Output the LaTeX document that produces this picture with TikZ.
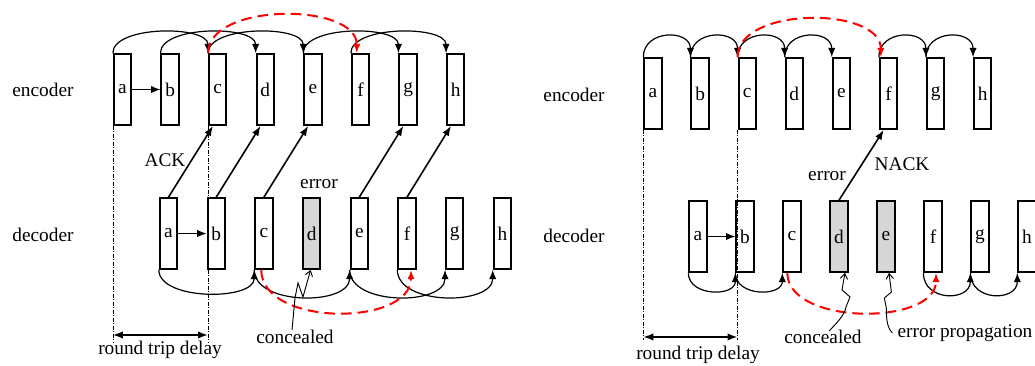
\documentclass[tikz,border=0pt]{standalone}
\usepackage{fontspec}
\setmainfont{Liberation Serif}
\usetikzlibrary{arrows.meta,calc}
\begin{document}
\begin{tikzpicture}[x=0.75pt,y=-0.75pt,
  font=\fontsize{14.5}{17}\selectfont,
  frame/.style={draw,line width=1.5pt,minimum width=13pt,minimum height=53pt,inner sep=0pt},
  txt/.style={inner sep=0pt},
  hop/.style={line width=0.9pt,-{Latex[length=7pt,width=5.5pt]}},
  ref/.style={red,line width=1.5pt,dash pattern=on 8pt off 4.5pt,-{Latex[length=7pt,width=5.5pt]}},
  fb/.style={line width=1.2pt,-{Latex[length=7.5pt,width=5.5pt]}},
  guide/.style={line width=0.5pt,dash pattern=on 3pt off 1.2pt on 0.6pt off 1.2pt},
  span/.style={line width=1.2pt,{Latex[length=7.5pt,width=5.5pt]}-{Latex[length=7.5pt,width=5.5pt]}},
  zig/.style={line width=0.7pt,-{Straight Barb[length=4pt,width=5.5pt]}},
]
\useasboundingbox (0,0) rectangle (1035,365);

% ---------- left: ACK scheme ----------
\node[txt] (Lenc) at (43,90) {encoder};
\node[txt] (Ldec) at (43,235) {decoder};
\foreach \n/\c [count=\i from 0] in {a/none,b/none,c/none,d/none,e/none,f/none,g/none,h/none}
  \node[frame,fill=\c] (LE\n) at ({122.5+47.6*\i},89.5) {\n};
\foreach \n/\c [count=\i from 0] in {a/none,b/none,c/none,d/black!16,e/none,f/none,g/none,h/none}
  \node[frame,fill=\c] (LD\n) at ({168.5+47.7*\i},233.5) {\n};

% prediction arcs, encoder
\draw[hop] (LEa.east) -- (LEb.west);
\foreach \s/\t in {a/c,b/d,c/e,e/g,f/h}
  \draw[hop] (LE\s.north west) .. controls +(0,-28) and +(0,-28) .. (LE\t.north west);
\draw[ref] (LEc.north west) .. controls +(0,-51) and +(0,-51) .. ($(LEf.north west)+(6,0)$);

% prediction arcs, decoder
\draw[hop] (LDa.east) -- (LDb.west);
\draw[hop] (LDa.south west) .. controls +(0,31) and +(0,31) .. (LDc.south west);
\foreach \s/\t in {c/e,e/g,f/h}
  \draw[hop] (LD\s.south west) .. controls +(0,36) and +(0,36) .. (LD\t.south west);
\draw[ref] ($(LDc.south west)+(7,0)$) .. controls +(0,57) and +(0,57) .. ($(LDf.south)+(4,0)$);

% acknowledgements
\foreach \s/\t in {a/c,b/d,c/e,e/g,f/h}
  \draw[fb] (LD\s.north) -- ($(LE\t.south west)+(5,0)$);
\node[txt] (Lack) at (165,160) {ACK};
\node[txt] (Lerr) at (319,184) {error};

% round trip delay
\coordinate (Lfoot) at (0,342);
\coordinate (Lspan) at (0,335);
\draw[guide] (LEa.south west) -- (LEa.south west |- Lfoot);
\draw[guide] (LEc.south west) -- (LEc.south west |- Lfoot);
\draw[span] (LEa.south west |- Lspan) -- (LEc.south west |- Lspan);
\node[txt] (Lrtd) at (160,350) {round trip delay};

% concealment note
\node[txt] (Lconc) at (295,337) {concealed};
\draw[zig] ($(Lconc.north)+(-3,0)$) -- ++(3,-32) -- ++(3,-15) -- ++(5,14) -- ($(LDd.south)+(-1,0)$);

% ---------- right: NACK scheme ----------
\node[txt] (Renc) at (574,95) {encoder};
\node[txt] (Rdec) at (574,236) {decoder};
\foreach \n/\c [count=\i from 0] in {a/none,b/none,c/none,d/none,e/none,f/none,g/none,h/none}
  \node[frame,fill=\c] (RE\n) at ({653+47.1*\i},93.5) {\n};
\foreach \n/\c [count=\i from 0] in {a/none,b/none,c/none,d/black!16,e/black!16,f/none,g/none,h/none}
  \node[frame,fill=\c] (RD\n) at ({698+47*\i},236.5) {\n};

% prediction arcs, encoder
\foreach \s/\t in {a/b,b/c,c/d,d/e,f/g,g/h}
  \draw[hop] (RE\s.north west) .. controls +(0,-28) and +(0,-28) .. (RE\t.north west);
\draw[ref] (REc.north west) .. controls +(0,-51) and +(0,-51) .. ($(REf.north west)+(2,0)$);

% prediction arcs, decoder
\draw[hop] (RDa.east) -- (RDb.west);
\foreach \s/\t in {a/b,b/c}
  \draw[hop] (RD\s.south west) .. controls +(0,24) and +(0,24) .. (RD\t.south west);
\foreach \s/\t in {f/g,g/h}
  \draw[hop] (RD\s.south west) .. controls +(0,29) and +(0,29) .. (RD\t.south west);
\draw[ref] ($(RDc.south west)+(5,0)$) .. controls +(0,53) and +(0,53) .. ($(RDf.south)+(3,0)$);

% negative acknowledgement
\draw[fb] (RDd.north) -- ($(REf.south west)+(5,0)$);
\node[txt] (Rnack) at (902,164) {NACK};
\node[txt] (Rerr) at (827,176) {error};

% round trip delay
\coordinate (Rfoot) at (0,340);
\coordinate (Rspan) at (0,337);
\draw[guide] (REa.south west) -- (REa.south west |- Rfoot);
\draw[guide] (REc.south west) -- (REc.south west |- Rfoot);
\draw[span] (REa.south west |- Rspan) -- (REc.south west |- Rspan);
\node[txt] (Rrtd) at (698,355) {round trip delay};

% notes
\node[txt] (Rconc) at (823,337) {concealed};
\draw[zig] ($(Rconc.north)+(6,1)$) .. controls +(6,-6) and +(-1,8) .. ++(17,-24)
  -- ++(4,-10) -- ++(-8,-7) -- ($(RDd.south)+(6,0)$);
\node[txt] (Rprop) at (965,333) {error propagation};
\draw[zig] ($(Rprop.west)+(-5,0)$) .. controls +(-6,-6) and +(0,8) .. ++(-6,-25)
  -- ++(-2,-10) -- ++(7,-6) -- ($(RDe.south)+(3,0)$);

\end{tikzpicture}
\end{document}
